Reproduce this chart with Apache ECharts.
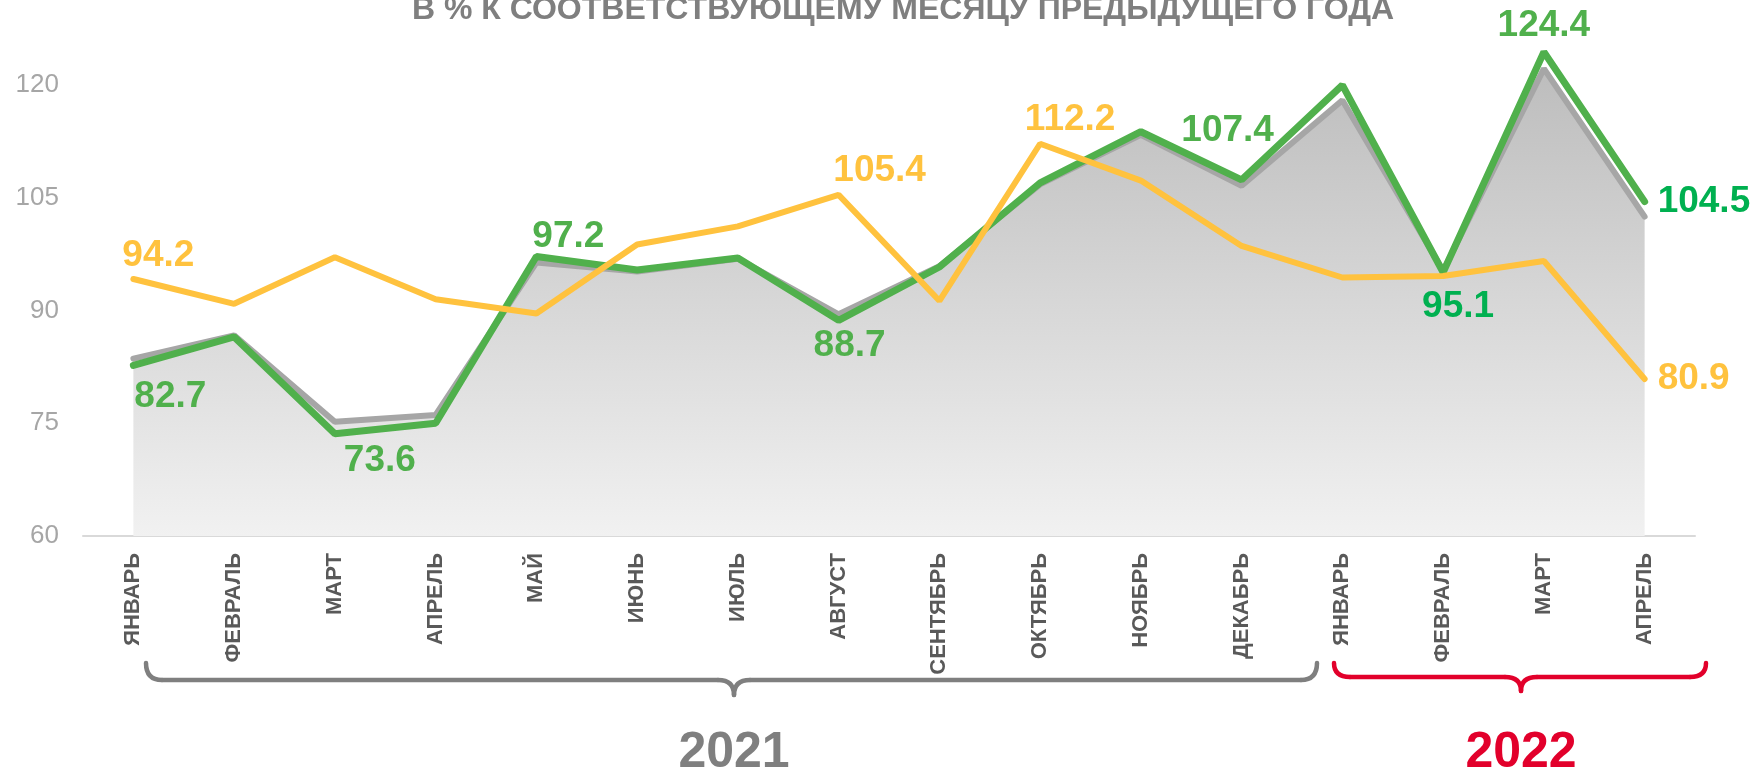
<!DOCTYPE html>
<html>
  <head>
    <meta charset="utf-8">
    <title></title>
    <style media="screen">
    html, body {margin:0; padding:0; background:#fff}
    .box {width:1757px; height:772px}
    </style>
    <script src="https://cdn.jsdelivr.net/npm/echarts@6/dist/echarts.min.js" charset="utf-8"></script>
    <script>
    // месяцы (2021 + 2022)
    const months=['ЯНВАРЬ','ФЕВРАЛЬ','МАРТ','АПРЕЛЬ','МАЙ','ИЮНЬ','ИЮЛЬ','АВГУСТ','СЕНТЯБРЬ','ОКТЯБРЬ','НОЯБРЬ','ДЕКАБРЬ','ЯНВАРЬ','ФЕВРАЛЬ','МАРТ','АПРЕЛЬ'];
    const greenVals=[82.7, 86.5, 73.6, 75.0, 97.2, 95.4, 97.0, 88.7, 95.8, 107.0, 113.8, 107.4, 120.0, 95.1, 124.4, 104.5];
    const grayVals=[83.6, 86.7, 75.2, 76.1, 96.4, 95.2, 96.9, 89.5, 95.9, 106.8, 113.4, 106.6, 118.0, 95.3, 122.2, 102.5];
    const yellowVals=[94.2, 90.9, 97.1, 91.5, 89.6, 98.8, 101.2, 105.4, 91.3, 112.2, 107.3, 98.6, 94.4, 94.6, 96.6, 80.9];
    const yTicks=[60, 75, 90, 105, 120];
    const years=['2021', '2022'];
    const title='В % К СООТВЕТСТВУЮЩЕМУ МЕСЯЦУ ПРЕДЫДУЩЕГО ГОДА';

    window.onload=function (){
      let font='"Liberation Sans", Arial, sans-serif';

      // where the value labels sit (offset of label centre from the point)
      let greenLabels={0:[37,31], 2:[45,27], 4:[32,-20], 7:[11,25], 11:[-14,-49], 13:[15,35], 14:[0,-26], 15:'right'};
      let yellowLabels={0:[25,-23], 7:[41,-24], 9:[30,-24], 15:'right'};

      function withLabels(vals, spots, color, dark){
        return vals.map((v, i)=>{
          let s=spots[i];
          if(!s) return {value: v, label: {show: false}};
          let c=(dark && (i==13 || i==15)) ? dark : color;
          let label={show: true, color: c, fontSize: 37, fontWeight: 'bold', fontFamily: font, formatter: v.toFixed(1)};
          if(s=='right'){
            label.position='right';
            label.distance=12;
          }else{
            label.position='inside';
            label.offset=s;
          }
          return {value: v, label: label};
        });
      }

      // curly brace under the month labels
      function brace(x1, x2, xm, yTop, yBar, yTip, r, color){
        let st={stroke: color, fill: 'none', lineWidth: 4.5, lineCap: 'round'};
        return [
          {type: 'bezierCurve', shape: {x1: x1, y1: yTop, cpx1: x1, cpy1: yBar, x2: x1+r, y2: yBar}, style: st},
          {type: 'line', shape: {x1: x1+r, y1: yBar, x2: xm-r, y2: yBar}, style: st},
          {type: 'bezierCurve', shape: {x1: xm-r, y1: yBar, cpx1: xm, cpy1: yBar, x2: xm, y2: yTip}, style: st},
          {type: 'bezierCurve', shape: {x1: xm, y1: yTip, cpx1: xm, cpy1: yBar, x2: xm+r, y2: yBar}, style: st},
          {type: 'line', shape: {x1: xm+r, y1: yBar, x2: x2-r, y2: yBar}, style: st},
          {type: 'bezierCurve', shape: {x1: x2-r, y1: yBar, cpx1: x2, cpy1: yBar, x2: x2, y2: yTop}, style: st}
        ];
      }

      let option={
        animation: false,
        grid: {left: 83, right: 62, top: 10, bottom: 236},
        xAxis: {
          type: 'category',
          boundaryGap: true,
          data: months,
          axisTick: {show: false},
          axisLine: {lineStyle: {color: '#D9D9D9', width: 2}},
          axisLabel: {rotate: 90, margin: 17, fontSize: 22, fontWeight: 'bold', color: '#595959', fontFamily: font, interval: 0}
        },
        yAxis: {
          type: 'value',
          min: yTicks[0],
          max: 130,
          interval: yTicks[1]-yTicks[0],
          splitLine: {show: false},
          axisLine: {show: false},
          axisTick: {show: false},
          axisLabel: {margin: 24, fontSize: 26, color: '#A6A6A6', fontFamily: font, showMaxLabel: false}
        },
        series: [
          {
            name: 'gray',
            type: 'line',
            data: grayVals,
            symbol: 'none',
            lineStyle: {color: '#A6A6A6', width: 6, cap: 'round'},
            areaStyle: {
              opacity: 1,
              color: new echarts.graphic.LinearGradient(0, 0, 0, 1, [
                {offset: 0, color: '#BDBDBD'},
                {offset: 1, color: '#F1F1F1'}
              ])
            },
            z: 1
          },
          {
            name: 'green',
            type: 'line',
            data: withLabels(greenVals, greenLabels, '#50B04C', '#00B050'),
            symbol: 'circle',
            symbolSize: 2,
            itemStyle: {color: '#50B04C'},
            lineStyle: {color: '#50B04C', width: 7, cap: 'round'},
            z: 2
          },
          {
            name: 'yellow',
            type: 'line',
            data: withLabels(yellowVals, yellowLabels, '#FFC23E'),
            symbol: 'circle',
            symbolSize: 2,
            itemStyle: {color: '#FFC23E'},
            lineStyle: {color: '#FFC23E', width: 6, cap: 'round'},
            z: 3
          }
        ],
        graphic: [
          {type: 'text', x: 903, y: 10, style: {text: title, fill: '#7F7F7F', font: 'bold 32px ' + font, textAlign: 'center', textVerticalAlign: 'middle'}},
          {type: 'text', x: 734, y: 753, style: {text: years[0], fill: '#7F7F7F', font: 'bold 50px ' + font, textAlign: 'center', textVerticalAlign: 'middle'}},
          {type: 'text', x: 1521, y: 753, style: {text: years[1], fill: '#E2002B', font: 'bold 50px ' + font, textAlign: 'center', textVerticalAlign: 'middle'}}
        ].concat(
          brace(146, 1317, 734, 663, 680, 695, 16, '#7F7F7F'),
          brace(1334, 1706, 1521, 663, 677, 691, 16, '#E2002B')
        )
      };

      let chart=echarts.init(document.querySelector('.box'));
      chart.setOption(option);
    };
    </script>
  </head>
  <body>
    <div class="box"></div>
  </body>
</html>
